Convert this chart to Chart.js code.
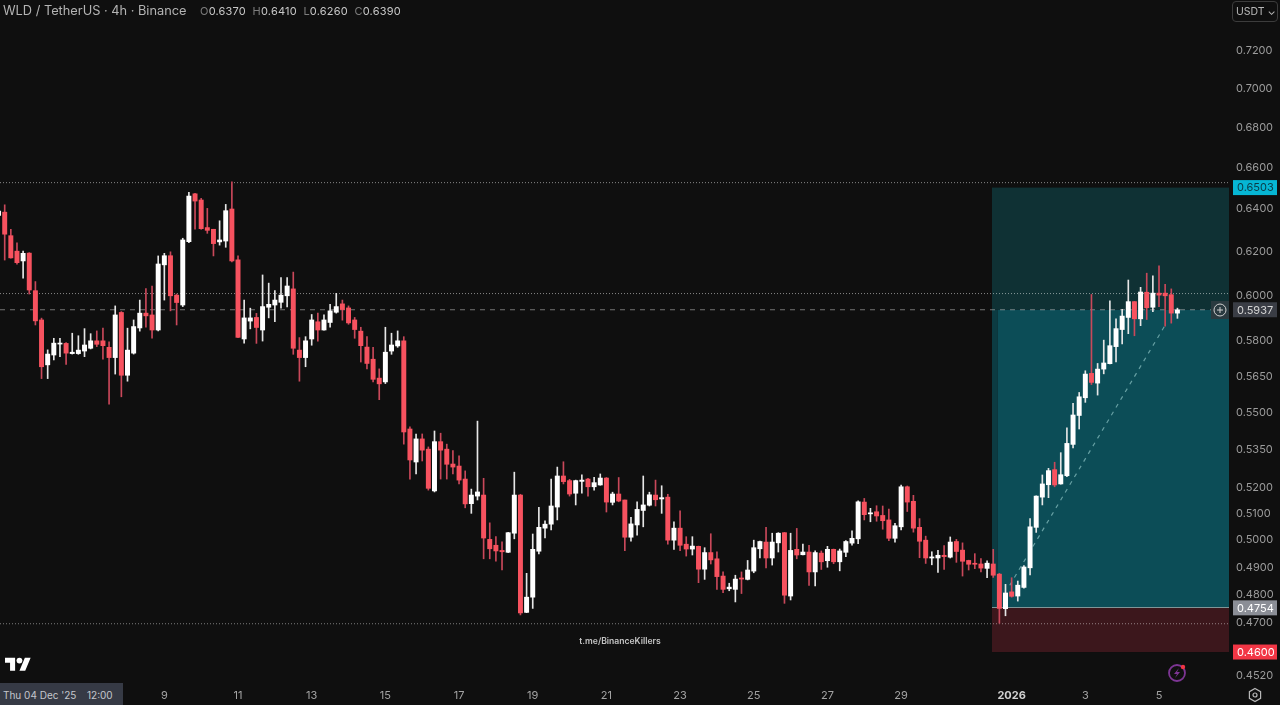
<!DOCTYPE html>
<html>
<head>
<meta charset="utf-8">
<title>WLD / TetherUS</title>
<script src="https://cdn.jsdelivr.net/npm/chart.js@4"></script>
<style>
html,body{margin:0;padding:0;background:#0f0f0f;overflow:hidden}
#wrap{position:relative;width:1280px;height:705px;font-family:Inter,"Noto Sans",sans-serif}
canvas{position:absolute;left:0;top:0}
.abs{position:absolute;white-space:pre}
#title{left:3px;top:2px;font-size:12.8px;line-height:17px;color:#b4b4b4}
#ohlc{left:200px;top:4px;font-size:11px;line-height:14px;color:#c8c8c8;letter-spacing:.2px}
#ohlc i{font-style:normal;color:#7d7d7d}
#usdt{left:1232px;top:1px;width:44px;height:19px;border:1px solid #3c3c3c;border-radius:4px;font-size:10.5px;line-height:19px;color:#b8b8b8;text-indent:3px}
#mark{left:540px;width:160px;top:635px;text-align:center;font-size:8.6px;line-height:12px;font-weight:600;color:#c4c4c4}
#dateTag{left:0;top:683px;width:123px;height:22px;background:#363a45}
#dateTag span{position:absolute;top:0;color:#c4c6cc;font-size:10px;line-height:24px}
</style>
</head>
<body>
<div id="wrap">
<canvas id="grafik" width="1280" height="705"></canvas>
<div class="abs" id="title">WLD / TetherUS · 4h · Binance</div>
<div class="abs" id="ohlc"><i>O</i>0.6370  <i>H</i>0.6410  <i>L</i>0.6260  <i>C</i>0.6390</div>
<div class="abs" id="usdt">USDT ⌄</div>
<div class="abs" id="mark">t.me/BinanceKillers</div>
<div class="abs" id="dateTag"><span style="left:3px">Thu 04 Dec '25</span><span style="left:87px">12:00</span></div>
<svg class="abs" style="left:5px;top:656px" width="26" height="15" viewBox="0 0 36 20"><path fill="#fff" d="M14 20H7V9H0V2h14v18zM28 20h-8l7.5-18h8L28 20z"/><circle fill="#fff" cx="20" cy="6" r="4"/></svg>
<svg class="abs" style="left:1165px;top:661px" width="26" height="24" viewBox="0 0 26 24"><circle cx="12" cy="12" r="8" fill="none" stroke="#7d3594" stroke-width="1.8"/><path d="M14 7l-5 6h3l-2 4 5-6h-3z" fill="#7d3594"/><circle cx="18" cy="6" r="2.2" fill="#f23645"/></svg>
<svg class="abs" style="left:1247px;top:687px" width="16" height="16" viewBox="0 0 16 16"><path d="M8 1.5l5.6 3.2v6.600L8 14.5l-5.6-3.2V4.700z" fill="none" stroke="#b8b8b8" stroke-width="1.2"/><circle cx="8" cy="8" r="2" fill="none" stroke="#b8b8b8" stroke-width="1.2"/></svg>
<div class="abs" style="left:1211px;top:301px;width:18px;height:18px;background:#2a3a40"></div>
<svg class="abs" style="left:1213px;top:303px" width="14" height="14" viewBox="0 0 14 14"><circle cx="7" cy="7" r="6" fill="none" stroke="#d0d0d0" stroke-width="1"/><path d="M7 4v6M4 7h6" stroke="#d0d0d0" stroke-width="1"/></svg>
</div>

<script>
let opens=[
.6370,.6385,.6274,.6202,.6157,.6193,.6022,.5892,.5698,.5740,
.5787,.5790,.5746,.5746,.5757,.5769,.5801,.5801,.5773,.5729,
.5925,.5654,.5748,.5857,.5922,.5914,.5848,.6139,.6181,.6002,
.5958,.6246,.6473,.6443,.6312,.6304,.6245,.6249,.6400,.6162,
.5809,.5887,.5903,.5848,.5948,.5958,.5970,.5999,.6030,.5761,
.5729,.5809,.5884,.5848,.5881,.5926,.5963,.5945,.5892,.5843,
.5774,.5722,.5642,.5626,.5757,.5779,.5801,.5432,.5300,.5392,
.5351,.5187,.5381,.5351,.5292,.5284,.5233,.5138,.5167,.5171,
.5003,.4981,.4962,.4955,.5026,.5171,.4738,.4792,.4959,.5045,
.5060,.5125,.5245,.5227,.5178,.5224,.5233,.5203,.5210,.5237,
.5143,.5175,.5152,.5011,.5057,.5112,.5132,.5171,.5156,.5163,
.5000,.5045,.4985,.4967,.4977,.4893,.4954,.4931,.4868,.4822,
.4820,.4861,.4856,.4886,.4968,.4993,.4934,.4990,.5028,.4796,
.4966,.4946,.4956,.4883,.4952,.4924,.4966,.4920,.4955,.4989,
.5005,.5144,.5099,.5107,.5093,.5076,.5007,.5050,.5203,.5147,
.5048,.5000,.4934,.4934,.4944,.4937,.4995,.4963,.4925,.4914,
.4912,.4896,.4912,.4875,.4751,.4811,.4796,.4827,.4898,.5048,
.5163,.5211,.5270,.5214,.5246,.5370,.5487,.5560,.5662,.5621,
.5680,.5703,.5776,.5850,.5903,.5973,.5897,.6015,.5948,.6011,
.6011,.6004,.5922]

let highs=[
.6410,.6420,.6304,.6241,.6202,.6195,.6063,.5900,.5762,.5812,
.5812,.5793,.5834,.5823,.5854,.5832,.5844,.5856,.5797,.5954,
.5929,.5856,.5892,.5980,.6031,.6043,.6180,.6192,.6199,.6007,
.6262,.6480,.6475,.6451,.6403,.6304,.6344,.6422,.6531,.6180,
.5980,.5944,.5921,.6093,.6056,.6022,.6081,.6081,.6106,.5815,
.5819,.5916,.5922,.5914,.5961,.6010,.5980,.5954,.5903,.5860,
.5819,.5773,.5681,.5860,.5834,.5844,.5819,.5441,.5411,.5412,
.5360,.5424,.5415,.5371,.5345,.5324,.5265,.5194,.5464,.5236,
.5065,.5013,.4994,.5029,.5260,.5174,.4878,.5023,.5124,.5073,
.5233,.5280,.5301,.5232,.5229,.5250,.5236,.5240,.5253,.5239,
.5182,.5239,.5152,.5086,.5145,.5245,.5182,.5229,.5207,.5174,
.5069,.5111,.5013,.5013,.4978,.4972,.5024,.4957,.4883,.4842,
.4871,.4883,.4925,.5000,.4997,.5048,.5026,.5028,.5029,.5026,
.5044,.4985,.4981,.4960,.4960,.4977,.4967,.4967,.4998,.5035,
.5149,.5158,.5120,.5130,.5129,.5117,.5063,.5210,.5206,.5170,
.5081,.5015,.4957,.4962,.4980,.5012,.5003,.4990,.4926,.4950,
.4932,.4924,.4966,.4878,.4838,.4862,.4850,.4906,.5081,.5168,
.5249,.5275,.5299,.5337,.5437,.5537,.5582,.5673,.6005,.5704,
.5804,.5977,.5897,.5939,.6070,.5974,.6037,.6101,.6089,.6134,
.6051,.6030,.5944]

let lows=[
.6260,.6161,.6170,.6142,.6078,.6007,.5870,.5640,.5640,.5719,
.5733,.5700,.5744,.5743,.5733,.5766,.5776,.5722,.5533,.5659,
.5564,.5629,.5744,.5843,.5860,.5812,.5844,.5980,.5932,.5870,
.5951,.6241,.6304,.6304,.6285,.6180,.6230,.6220,.6153,.5815,
.5791,.5853,.5790,.5800,.5901,.5884,.5944,.5949,.5743,.5629,
.5690,.5782,.5800,.5847,.5860,.5922,.5891,.5873,.5812,.5710,
.5681,.5626,.5552,.5619,.5743,.5773,.5371,.5233,.5253,.5304,
.5190,.5183,.5233,.5233,.5253,.5214,.5122,.5101,.5152,.4931,
.4931,.4922,.4890,.4954,.5005,.4729,.4737,.4752,.4949,.5008,
.5038,.5076,.5214,.5167,.5133,.5178,.5167,.5190,.5209,.5106,
.5133,.5145,.4961,.4996,.5019,.5050,.5129,.5129,.5101,.4985,
.4966,.4961,.4941,.4945,.4844,.4856,.4912,.4820,.4808,.4815,
.4775,.4805,.4854,.4880,.4934,.4898,.4908,.4956,.4770,.4782,
.4931,.4945,.4834,.4832,.4892,.4900,.4913,.4887,.4939,.4981,
.4987,.5076,.5069,.5071,.5041,.4998,.4993,.5038,.5108,.5030,
.4935,.4914,.4909,.4881,.4892,.4934,.4918,.4868,.4890,.4895,
.4883,.4862,.4863,.4700,.4726,.4792,.4778,.4824,.4872,.5029,
.5133,.5161,.5203,.5213,.5242,.5356,.5432,.5541,.5615,.5571,
.5660,.5702,.5711,.5788,.5832,.5823,.5867,.5894,.5929,.5951,
.5865,.5878,.5899]

let closes=[
.6390,.6281,.6171,.6149,.6192,.6025,.5888,.5690,.5744,.5791,
.5791,.5748,.5752,.5761,.5783,.5801,.5786,.5780,.5729,.5914,
.5654,.5761,.5863,.5922,.5910,.5848,.6143,.6181,.5999,.5969,
.6254,.6462,.6438,.6307,.6299,.6237,.6254,.6392,.6157,.5816,
.5901,.5901,.5859,.5951,.5961,.5980,.6002,.6043,.5769,.5729,
.5801,.5892,.5848,.5892,.5932,.5951,.5938,.5879,.5850,.5780,
.5704,.5637,.5618,.5752,.5783,.5801,.5420,.5308,.5392,.5347,
.5197,.5381,.5347,.5291,.5280,.5229,.5137,.5171,.5183,.5008,
.4968,.4960,.4957,.5028,.5171,.4736,.4792,.4966,.5048,.5060,
.5129,.5245,.5223,.5175,.5227,.5229,.5203,.5219,.5237,.5144,
.5175,.5148,.5011,.5061,.5116,.5133,.5172,.5153,.5161,.5000,
.5045,.4981,.4967,.4978,.4893,.4954,.4927,.4866,.4820,.4828,
.4857,.4857,.4890,.4972,.4995,.4934,.4993,.5026,.4799,.4962,
.4945,.4956,.4883,.4954,.4920,.4966,.4920,.4960,.4995,.5007,
.5145,.5096,.5103,.5091,.5073,.5007,.5054,.5203,.5144,.5045,
.4996,.4934,.4938,.4944,.4939,.4993,.4958,.4922,.4911,.4911,
.4897,.4915,.4871,.4752,.4807,.4795,.4835,.4901,.5050,.5167,
.5214,.5266,.5210,.5250,.5374,.5489,.5564,.5659,.5624,.5680,
.5706,.5780,.5854,.5909,.5973,.5897,.6016,.5946,.6011,.6002,
.5999,.5922,.5937]

let dayTickIndex=[27,39,51,63,75,87,99,111,123,135,147,165,177,189]
let dayTickLabel=["9","11","13","15","17","19","21","23","25","27","29","2026","3","5"]
let priceTicks=[0.72,0.70,0.68,0.66,0.64,0.62,0.60,0.58,0.565,0.55,0.535,0.52,0.51,0.50,0.49,0.48,0.47,0.452]

let highLevel=0.6527
let midLevel=0.6009
let lowLevel=0.4698
let lastPrice=0.5937
let targetPrice=0.6503
let entryPrice=0.4754
let stopPrice=0.46
let trendX=[164.7,190.2]
let trendY=[0.4835,0.5878]

let xMin=0.235
let xMax=200.4
let zoneStart=161.8
let tealStart=162.7

let warnaNaik="#ffffff"
let warnaTurun="#f7525f"

let bodyData=opens.map((o,i)=>({x:i,y:[o,closes[i]]}))
let wickData=opens.map((o,i)=>({x:i,y:[lows[i],highs[i]]}))
let warnaBody=opens.map((o,i)=>closes[i]>=o?warnaNaik:warnaTurun)
let warnaWick=opens.map((o,i)=>closes[i]>=o?"#e6e6e6":"#c9485a")

function garis(level,warna,dash){
return {
type:"line",
data:[{x:xMin,y:level},{x:xMax,y:level}],
borderColor:warna,
borderWidth:1,
borderDash:dash,
pointRadius:0,
order:3
}
}

// axis labels would otherwise push the plot in from the canvas edge
function tanpaPadding(s){
s.paddingTop=0
s.paddingBottom=0
s.paddingLeft=0
s.paddingRight=0
}

let zonaPlugin={
id:"zona",
beforeDatasetsDraw(chart){
let c=chart.ctx
let x=chart.scales.x
let y=chart.scales.y
let kiri=x.getPixelForValue(zoneStart)
let teal=x.getPixelForValue(tealStart)
let kanan=chart.chartArea.right
let yT=y.getPixelForValue(targetPrice)
let yL=y.getPixelForValue(lastPrice)
let yE=y.getPixelForValue(entryPrice)
let yS=y.getPixelForValue(stopPrice)
c.save()
c.fillStyle="#0f3134"
c.fillRect(kiri,yT,kanan-kiri,yL-yT)
c.fillStyle="#0c3b42"
c.fillRect(kiri,yL,teal-kiri,yE-yL)
c.fillStyle="#0c4d57"
c.fillRect(teal,yL,kanan-teal,yE-yL)
c.fillStyle="#3c171c"
c.fillRect(kiri,yE,kanan-kiri,yS-yE)
c.fillStyle="#7f9698"
c.fillRect(kiri,Math.round(yE)-1,kanan-kiri,1)
c.restore()
}
}

let labelPlugin={
id:"labelHarga",
afterDraw(chart){
let c=chart.ctx
let y=chart.scales.y
let tag=[
[targetPrice,"#06b6d4","#0b3a46"],
[lastPrice,"#3a3d45","#d4d4d4"],
[entryPrice,"#8b8e96","#ffffff"],
[stopPrice,"#f23645","#ffffff"]
]
c.save()
c.font="11px Inter"
c.textBaseline="middle"
c.textAlign="left"
tag.forEach(t=>{
let py=y.getPixelForValue(t[0])
c.fillStyle=t[1]
c.fillRect(1233,py-7.5,44,15)
c.fillStyle=t[2]
c.fillText(t[0].toFixed(4),1237,py+0.5)
})
c.restore()
}
}

new Chart(document.getElementById("grafik"),{
type:"bar",
data:{
datasets:[
{
data:wickData,
backgroundColor:warnaWick,
barThickness:1,
grouped:false,
order:2
},
{
data:bodyData,
backgroundColor:warnaBody,
barThickness:4.3,
minBarLength:1,
grouped:false,
order:1
},
garis(highLevel,"rgba(255,255,255,0.5)",[1,2]),
garis(midLevel,"rgba(255,255,255,0.5)",[1,2]),
garis(lowLevel,"rgba(255,255,255,0.45)",[1,2]),
garis(lastPrice,"rgba(200,200,200,0.55)",[5,5]),
{
type:"line",
data:[{x:trendX[0],y:trendY[0]},{x:trendX[1],y:trendY[1]}],
borderColor:"rgba(150,205,205,0.65)",
borderWidth:1.2,
borderDash:[4,5],
pointRadius:0,
order:3
}
]
},
plugins:[zonaPlugin,labelPlugin],
options:{
responsive:false,
animation:false,
maintainAspectRatio:false,
layout:{padding:0},
plugins:{legend:{display:false},tooltip:{enabled:false}},
scales:{
x:{
type:"linear",
min:xMin,
max:xMax,
offset:false,
grid:{display:false,drawTicks:false},
border:{display:false},
afterFit(s){s.height=22;tanpaPadding(s)},
afterBuildTicks(s){s.ticks=dayTickIndex.map(v=>({value:v}))},
ticks:{
autoSkip:false,
maxRotation:0,
padding:6,
color:c=>c.tick&&c.tick.value==165?"#d0d0d0":"#a3a3a3",
font:c=>({family:"Inter",size:11,weight:c.tick&&c.tick.value==165?"700":"400"}),
callback:v=>dayTickLabel[dayTickIndex.indexOf(v)]
}
},
y:{
type:"logarithmic",
position:"right",
min:0.4495,
max:0.7479,
grid:{display:false,drawTicks:false},
border:{display:false},
afterFit(s){s.width=51;tanpaPadding(s)},
afterBuildTicks(s){s.ticks=priceTicks.map(v=>({value:v}))},
ticks:{
autoSkip:false,
padding:7,
color:"#9c9c9c",
font:{family:"Inter",size:11},
callback:v=>Number(v).toFixed(4)
}
}
}
}
})
</script>
</body>
</html>
